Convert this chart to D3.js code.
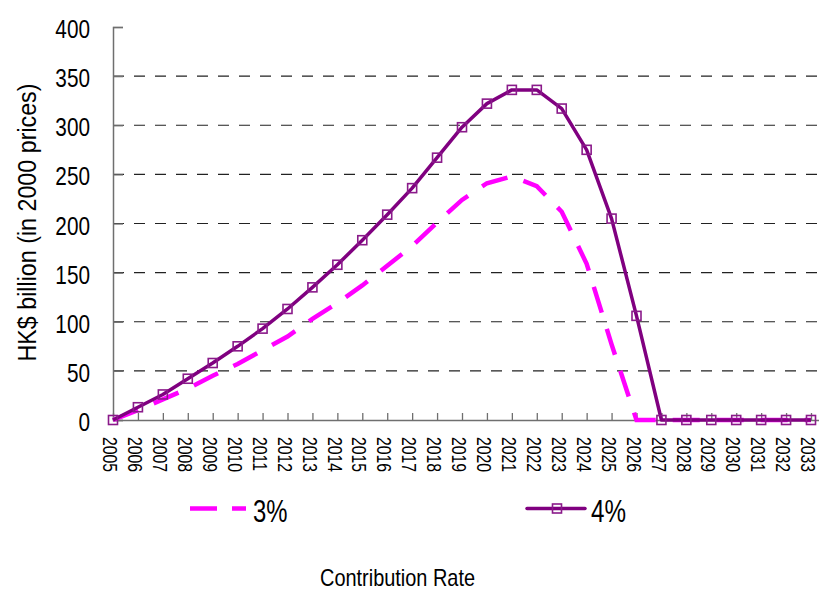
<!DOCTYPE html>
<html>
<head>
<meta charset="utf-8">
<script src="https://cdn.jsdelivr.net/npm/d3@7"></script>
<style>
  html, body { margin: 0; padding: 0; background: #fff; }
  svg { display: block; font-family: "Liberation Sans", Arial, sans-serif; }
</style>
</head>
<body>
<svg id="chart" width="819" height="592"></svg>
<script>
const years = d3.range(2005, 2034).map(String);
const rate3 = [0, 10, 21, 32, 45, 57, 71, 85, 103, 119, 137, 157, 177, 201, 224, 241, 248, 238, 212, 159, 77, 0, 0, 0, 0, 0, 0, 0, 0];
const rate4 = [0, 13, 26, 42, 58, 75, 93, 113, 135, 158, 183, 209, 236, 267, 298, 322, 336, 336, 317, 275, 205, 106, 0, 0, 0, 0, 0, 0, 0];
const yTicks = [0, 50, 100, 150, 200, 250, 300, 350, 400];
const gridTicks = [50, 100, 150, 200, 250, 300, 350];
const seriesNames = ["3%", "4%"];
const yTitle = "HK$ billion (in 2000 prices)";
const xTitle = "Contribution Rate";

const svg = d3.select("#chart");
const x = d3.scalePoint().domain(years).range([113, 811]);
const y = d3.scaleLinear().domain([0, 400]).range([420, 27]);

function squeeze(sel, factor) {
  sel.each(function () {
    const w = this.getComputedTextLength();
    this.setAttribute("textLength", w * factor);
    this.setAttribute("lengthAdjust", "spacingAndGlyphs");
  });
}
function fitTo(sel, len) {
  sel.attr("textLength", len).attr("lengthAdjust", "spacingAndGlyphs");
}

// gridlines
svg.append("g").selectAll("line").data(gridTicks).join("line")
  .attr("x1", 113).attr("x2", 819)
  .attr("y1", d => y(d)).attr("y2", d => y(d))
  .attr("stroke", "#222").attr("stroke-width", 1.1)
  .attr("stroke-dasharray", "11,10");

// y axis
const yAxis = svg.append("g").attr("transform", "translate(113,0)")
  .call(d3.axisRight(y).tickValues(yTicks).tickSize(10).tickFormat(""));
yAxis.select(".domain").attr("stroke", "#6f6f6f").attr("stroke-width", 1.5);
yAxis.selectAll(".tick line").attr("stroke", "#6f6f6f").attr("stroke-width", 1.3);

const yLabels = svg.append("g").selectAll("text").data(yTicks).join("text")
  .attr("x", 90).attr("y", d => y(d) + 2)
  .attr("text-anchor", "end").attr("dominant-baseline", "central")
  .attr("font-size", 25).attr("fill", "#000")
  .text(d => d);
squeeze(yLabels, 0.83);

// x axis
const xAxis = svg.append("g").attr("transform", "translate(0,420)")
  .call(d3.axisTop(x).tickSize(7).tickFormat(""));
xAxis.select(".domain").attr("stroke", "#6f6f6f").attr("stroke-width", 1.5)
  .attr("d", "M113,0.5H819");
xAxis.selectAll(".tick line").attr("stroke", "#6f6f6f").attr("stroke-width", 1.3);

const xLabels = svg.append("g").selectAll("text").data(years).join("text")
  .attr("transform", d => `translate(${x(d) - 3},437) rotate(90)`)
  .attr("text-anchor", "start").attr("dy", "0.35em")
  .attr("font-size", 19.5).attr("fill", "#000")
  .text(d => d);
squeeze(xLabels, 0.81);

// lines
const line = d3.line().x((d, i) => x(years[i])).y(d => y(d));
svg.append("path").datum(rate3)
  .attr("d", line).attr("fill", "none")
  .attr("stroke", "#ff00ff").attr("stroke-width", 4.5)
  .attr("stroke-dasharray", "27,17");

svg.append("path").datum(rate4)
  .attr("d", line).attr("fill", "none")
  .attr("stroke", "#800080").attr("stroke-width", 3.5)
  .attr("stroke-linejoin", "round");

svg.append("g").selectAll("rect").data(rate4).join("rect")
  .attr("x", (d, i) => x(years[i]) - 4.5).attr("y", d => y(d) - 4.5)
  .attr("width", 9).attr("height", 9)
  .attr("fill", "none").attr("stroke", "#8a1a8a").attr("stroke-width", 1.6);

// y title
const yt = svg.append("text")
  .attr("transform", "translate(27,222.5) rotate(-90)")
  .attr("text-anchor", "middle").attr("dominant-baseline", "central")
  .attr("font-size", 25).attr("fill", "#000")
  .text(yTitle);
fitTo(yt, 278);

// legend
const lg = svg.append("g");
lg.append("line").attr("x1", 190).attr("x2", 246).attr("y1", 508.5).attr("y2", 508.5)
  .attr("stroke", "#ff00ff").attr("stroke-width", 4.5).attr("stroke-dasharray", "27,15");
const t3 = lg.append("text").attr("x", 253).attr("y", 522)
  .attr("font-size", 32).attr("fill", "#000").text(seriesNames[0]);
fitTo(t3, 34.5);
lg.append("line").attr("x1", 527).attr("x2", 585).attr("y1", 508.5).attr("y2", 508.5)
  .attr("stroke", "#800080").attr("stroke-width", 3.5).attr("stroke-linecap", "round");
lg.append("rect").attr("x", 552.5).attr("y", 504).attr("width", 9).attr("height", 9)
  .attr("fill", "none").attr("stroke", "#8a1a8a").attr("stroke-width", 1.6);
const t4 = lg.append("text").attr("x", 591).attr("y", 522)
  .attr("font-size", 32).attr("fill", "#000").text(seriesNames[1]);
fitTo(t4, 35);

// x title
const xt = svg.append("text").attr("x", 397.5).attr("y", 586)
  .attr("text-anchor", "middle")
  .attr("font-size", 24).attr("fill", "#000").text(xTitle);
fitTo(xt, 155);
</script>
</body>
</html>
